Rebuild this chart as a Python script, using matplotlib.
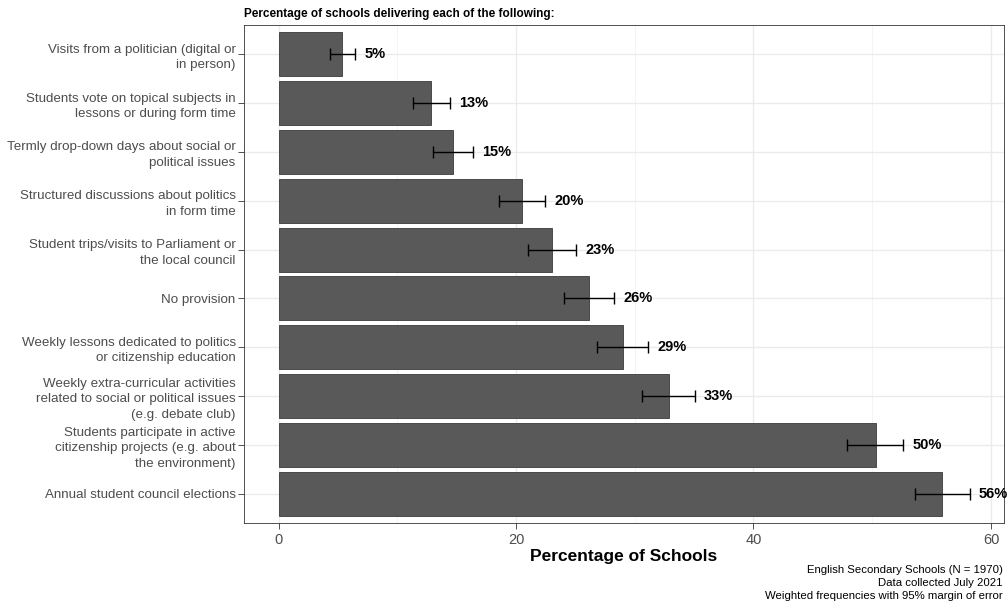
import matplotlib.pyplot as plt
import numpy as np

plt.rcParams['font.family'] = ['Liberation Sans', 'DejaVu Sans']

# data, read top to bottom
labels = [
    'Visits from a politician (digital or\nin person)',
    'Students vote on topical subjects in\nlessons or during form time',
    'Termly drop-down days about social or\npolitical issues',
    'Structured discussions about politics\nin form time',
    'Student trips/visits to Parliament or\nthe local council',
    'No provision',
    'Weekly lessons dedicated to politics\nor citizenship education',
    'Weekly extra-curricular activities\nrelated to social or political issues\n(e.g. debate club)',
    'Students participate in active\ncitizenship projects (e.g. about\nthe environment)',
    'Annual student council elections',
]
pct = [5.35, 12.85, 14.7, 20.5, 23.05, 26.15, 29.0, 32.85, 50.3, 55.9]
lower = [4.3, 11.3, 13.05, 18.6, 21.05, 24.05, 26.85, 30.6, 47.9, 53.6]
upper = [6.45, 14.45, 16.35, 22.45, 25.05, 28.25, 31.15, 35.05, 52.6, 58.2]
pct_labels = ['5%', '13%', '15%', '20%', '23%', '26%', '29%', '33%', '50%', '56%']

fig = plt.figure(figsize=(10.07, 6.06), dpi=100)
ax = fig.add_axes([244 / 1007, 1 - 523 / 606, 760 / 1007, 498 / 606])

n = len(labels)
y = np.arange(n, 0, -1)  # first category at the top

ax.barh(y, pct, height=0.9, color='#595959', edgecolor='#3a3a3a', linewidth=0.6, zorder=2)

xerr = [np.array(pct) - np.array(lower), np.array(upper) - np.array(pct)]
ax.errorbar(pct, y, xerr=xerr, fmt='none', ecolor='black', elinewidth=1.0,
            capsize=4.5, capthick=1.0, zorder=3)

for yi, up, lab in zip(y, upper, pct_labels):
    ax.text(up + 0.8, yi, lab, va='center', ha='left', fontsize=10.5,
            fontweight='bold', color='black', zorder=4)

ax.set_xlim(-2.91, 61.1)
ax.set_ylim(0.4, n + 0.6)
ax.set_yticks(y)
ax.set_yticklabels(labels, fontsize=9.6, color='#4d4d4d', linespacing=1.38)
ax.set_xticks([0, 20, 40, 60])
ax.set_xticks([10, 30, 50], minor=True)
ax.tick_params(axis='x', labelsize=10.5, labelcolor='#4d4d4d', color='#333333',
               length=4, width=0.6, pad=3)
ax.tick_params(axis='x', which='minor', length=0)
ax.tick_params(axis='y', color='#333333', length=4, width=0.6, pad=2)

ax.grid(which='major', color='#ebebeb', linewidth=1.0, zorder=0)
ax.grid(which='minor', axis='x', color='#f3f3f3', linewidth=0.6, zorder=0)
ax.set_axisbelow(True)
for s in ax.spines.values():
    s.set_color('#333333')
    s.set_linewidth(0.6)

ax.set_xlabel('Percentage of Schools', fontsize=12.5, fontweight='bold', labelpad=2)
ax.set_title('Percentage of schools delivering each of the following:',
             fontsize=8.5, fontweight='bold', loc='left', pad=6)

fig.text(1003 / 1007, 1 - 565 / 606,
         'English Secondary Schools (N = 1970)\nData collected July 2021\n'
         'Weighted frequencies with 95% margin of error',
         ha='right', va='top', fontsize=8.2, linespacing=1.4)

fig.savefig('out.png', dpi=100)
